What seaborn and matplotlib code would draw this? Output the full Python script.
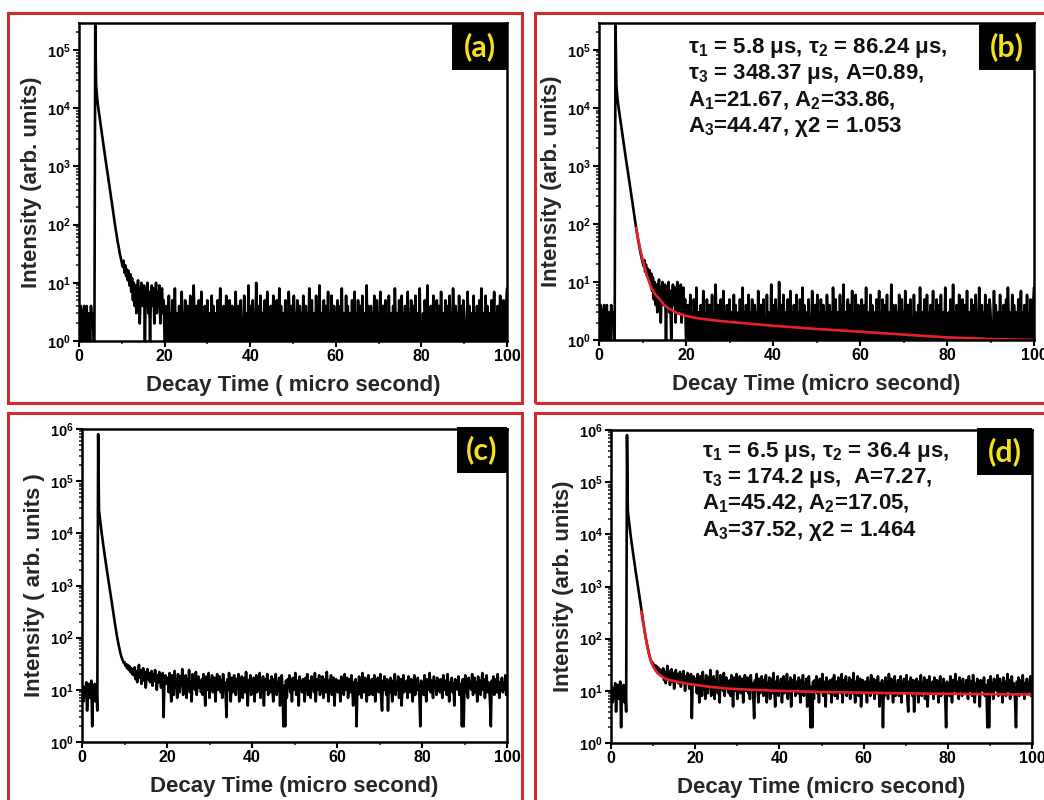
import numpy as np
import matplotlib
matplotlib.use("Agg")
import matplotlib.pyplot as plt
from matplotlib.patches import Rectangle
from matplotlib.ticker import FixedLocator, FixedFormatter, LogLocator, NullFormatter, MultipleLocator
import seaborn as sns

# channel width of the decay histograms (micro second)
step = 0.2

# sample 1 -> panels (a) and (b)
s1_base = [3, 1, 4, 2, 1, 3, 4, 1, 2, 4, 1, 3, 2, 1, 4, 2, 3, 1, 1]
s1_peak = [280000]
s1_decay = [25000, 16000, 11500, 9000, 7000, 5500, 4300, 3400, 2700, 2100,
            1650, 1300, 1050, 830, 660, 520, 410, 330, 260, 205,
            160, 125, 100, 80, 66, 52, 44, 36, 30, 26,
            22, 19, 24, 15, 20, 13, 17, 11, 16, 9, 14]
s1_tail = [7, 12, 5, 10, 4, 9, 3, 8, 11, 5, 2, 7, 10, 4, 6, 9, 1, 8, 5, 10,
           3, 7, 1, 6, 9, 4, 8, 2, 5, 10, 3, 7, 4, 9, 2, 6, 8, 3, 5, 1,
           1, 4, 1, 2, 6, 1, 3, 1, 5, 2, 1, 8, 1, 3, 2, 1, 4, 1, 2, 7,
           1, 3, 1, 5, 2, 1, 4, 1, 2, 6, 1, 3, 1, 9, 2, 1, 4, 2, 1, 5,
           1, 2, 7, 1, 3, 1, 4, 2, 1, 5, 1, 3, 2, 1, 6, 1, 4, 1, 2, 3,
           1, 5, 1, 2, 8, 1, 3, 1, 4, 2, 1, 6, 1, 3, 1, 5, 2, 1, 4, 1,
           3, 1, 7, 2, 1, 4, 1, 3, 5, 1, 2, 1, 6, 1, 3, 2, 1, 9, 1, 4,
           2, 1, 5, 1, 3, 1, 10, 2, 1, 4, 1, 6, 2, 1, 3, 1, 5, 1, 2, 7,
           1, 3, 1, 4, 2, 1, 6, 1, 3, 1, 5, 2, 1, 8, 1, 4, 1, 2, 3, 1,
           5, 1, 2, 1, 7, 3, 1, 4, 1, 2, 6, 1, 3, 1, 5, 2, 1, 4, 1, 3,
           1, 6, 2, 1, 4, 1, 3, 1, 8, 2, 1, 5, 1, 3, 2, 1, 6, 1, 4, 1,
           9, 1, 3, 2, 1, 5, 1, 4, 1, 2, 7, 1, 3, 1, 6, 2, 1, 4, 1, 3,
           1, 5, 1, 2, 4, 1, 8, 1, 3, 2, 1, 6, 1, 4, 1, 3, 2, 1, 5, 1,
           2, 7, 1, 3, 1, 5, 2, 1, 4, 1, 6, 1, 2, 3, 1, 9, 1, 4, 2, 1,
           4, 1, 3, 1, 6, 2, 1, 5, 1, 3, 1, 7, 2, 1, 4, 1, 3, 5, 1, 2,
           1, 6, 1, 3, 2, 1, 4, 1, 8, 2, 1, 3, 1, 5, 2, 1, 6, 1, 3, 1,
           4, 1, 2, 7, 1, 3, 1, 5, 2, 1, 4, 1, 6, 1, 3, 2, 1, 8, 1, 2,
           1, 3, 1, 5, 2, 1, 9, 1, 3, 1, 4, 2, 1, 6, 1, 3, 1, 5, 2, 1,
           4, 1, 7, 1, 2, 3, 1, 5, 1, 4, 1, 2, 6, 1, 3, 1, 8, 2, 1, 4,
           1, 3, 1, 6, 2, 1, 4, 1, 5, 3, 1, 2, 1, 7, 1, 4, 2, 1, 3, 1,
           6, 1, 3, 1, 4, 2, 1, 5, 1, 8, 2, 1, 3, 1, 6, 1, 4, 2, 1, 3,
           1, 5, 1, 2, 7, 1, 3, 1, 4, 2, 1, 6, 1, 3, 1, 5, 2, 1, 4, 8]

# sample 2 -> panels (c) and (d)
s2_base = [9, 12, 6, 11, 8, 14, 4, 10, 13, 7, 11, 15, 2, 12, 9, 13, 6, 10, 4]
s2_peak = [800000]
s2_decay = [28000, 20000, 14500, 10500, 7800, 6000, 4600, 3500, 2700, 2100,
            1650, 1280, 1000, 780, 610, 480, 370, 290, 225, 175,
            138, 110, 90, 74, 62, 52, 45, 40, 36, 33,
            34, 29, 31, 26, 30, 24, 28, 22, 26, 20, 25]
s2_tail = [19, 27, 16, 23, 14, 21, 30, 17, 24, 13, 20, 26, 15, 22, 11, 19, 25, 16, 21, 14,
           18, 23, 12, 20, 15, 24, 17, 10, 19, 14, 22, 16, 11, 18, 21, 3, 15, 19, 13, 17,
           17, 9, 21, 12, 6, 19, 14, 8, 23, 11, 16, 7, 20, 13, 9, 18, 12, 25, 8, 15,
           13, 19, 7, 16, 11, 24, 9, 14, 6, 20, 12, 17, 10, 22, 8, 15, 18, 11, 14, 9,
           16, 8, 20, 12, 5, 18, 13, 10, 21, 7, 15, 11, 19, 9, 14, 17, 6, 13, 20, 10,
           12, 18, 9, 15, 7, 20, 11, 14, 8, 3, 16, 10, 21, 12, 6, 17, 9, 14, 19, 11,
           8, 16, 12, 20, 6, 14, 10, 18, 7, 13, 17, 9, 22, 11, 5, 15, 12, 19, 8, 14,
           10, 17, 6, 13, 19, 9, 15, 11, 21, 7, 14, 12, 18, 5, 16, 10, 13, 20, 8, 12,
           15, 9, 18, 11, 6, 16, 12, 20, 8, 14, 10, 17, 5, 13, 19, 9, 2, 12, 2, 15,
           7, 16, 11, 19, 9, 14, 6, 17, 12, 10, 21, 8, 13, 15, 5, 18, 11, 14, 9, 16,
           12, 6, 17, 10, 20, 8, 13, 15, 7, 18, 11, 14, 9, 21, 6, 12, 16, 10, 19, 8,
           14, 10, 18, 7, 13, 16, 9, 22, 11, 6, 15, 12, 19, 8, 13, 17, 5, 11, 16, 10,
           9, 15, 12, 6, 18, 11, 14, 8, 20, 10, 13, 17, 7, 12, 16, 9, 19, 11, 5, 14,
           11, 16, 2, 13, 8, 18, 10, 15, 7, 21, 12, 9, 17, 11, 6, 14, 19, 8, 13, 10,
           16, 8, 12, 19, 6, 14, 11, 17, 9, 13, 20, 7, 4, 15, 10, 18, 12, 8, 16, 4,
           13, 9, 17, 11, 6, 15, 12, 20, 8, 14, 10, 18, 7, 13, 16, 5, 11, 19, 9, 14,
           10, 15, 7, 18, 12, 9, 16, 11, 6, 14, 19, 8, 13, 10, 17, 12, 7, 2, 15, 11,
           14, 8, 19, 12, 6, 16, 10, 13, 21, 9, 15, 11, 7, 18, 12, 14, 8, 17, 10, 13,
           9, 16, 11, 7, 19, 13, 10, 15, 8, 20, 12, 6, 14, 11, 17, 9, 13, 5, 16, 12,
           15, 10, 18, 8, 13, 11, 2, 16, 2, 12, 19, 9, 14, 7, 17, 11, 13, 10, 20, 8,
           12, 17, 9, 14, 6, 18, 11, 15, 8, 13, 21, 10, 16, 7, 12, 19, 9, 14, 11, 6,
           2, 15, 10, 18, 8, 13, 16, 9, 20, 11, 7, 14, 12, 17, 9, 13, 10, 19, 8, 15]

# fitted curves (b) and (d)
fit_b_t = [8.5, 9.0, 9.5, 10, 11, 12, 13, 14, 15, 16, 18, 20, 23, 26, 30, 35, 40, 50, 60, 70, 80, 90, 100]
fit_b_y = [85, 55, 36, 25, 13, 8.0, 6.0, 5.0, 4.0, 3.5, 2.9, 2.6, 2.35, 2.2, 2.05, 1.9, 1.76, 1.55, 1.39, 1.24, 1.11, 1.04, 1.0]
fit_d_t = [7.2, 7.6, 8.0, 8.5, 9.0, 9.5, 10, 11, 12, 13, 14, 16, 18, 20, 24, 28, 33, 40, 50, 60, 72, 85, 100]
fit_d_y = [330, 210, 135, 80, 52, 37, 29, 22, 19, 17, 16, 14.8, 13.8, 13, 11.8, 11.0, 10.5, 10.0, 9.5, 9.2, 8.9, 8.7, 8.5]

fit_b_text = ["τ$_1$ = 5.8 μs, τ$_2$ = 86.24 μs,",
              "τ$_3$ = 348.37 μs, A=0.89,",
              "A$_1$=21.67, A$_2$=33.86,",
              "A$_3$=44.47, χ2 = 1.053"]
fit_d_text = ["τ$_1$ = 6.5 μs, τ$_2$ = 36.4 μs,",
              "τ$_3$ = 174.2 μs,  A=7.27,",
              "A$_1$=45.42, A$_2$=17.05,",
              "A$_3$=37.52, χ2 = 1.464"]

counts1 = np.array(s1_base + s1_peak + s1_decay + s1_tail, dtype=float)
counts2 = np.array(s2_base + s2_peak + s2_decay + s2_tail, dtype=float)
t1 = np.arange(len(counts1)) * step
t2 = np.arange(len(counts2)) * step

sns.set_theme(style="ticks")
plt.rcParams["font.family"] = ["Liberation Sans", "DejaVu Sans"]
plt.rcParams["font.weight"] = "bold"
plt.rcParams["axes.labelweight"] = "bold"
plt.rcParams["mathtext.fontset"] = "custom"
plt.rcParams["mathtext.rm"] = "Liberation Sans:bold"
plt.rcParams["mathtext.bf"] = "Liberation Sans:bold"
plt.rcParams["mathtext.it"] = "Liberation Sans:bold"
plt.rcParams["mathtext.default"] = "bf"

W, H = 1044, 800
fig = plt.figure(figsize=(W / 100, H / 100), dpi=100)
fig.patch.set_facecolor("white")

frame_red = "#d22b2b"
fit_red = "#e8202a"
tag_yellow = "#f3e11c"

panels = [
    dict(tag="(a)", ax_px=(79, 23, 507, 341), tag_px=(452, 23, 507, 70), frame=(8, 13, 522, 403),
         t=t1, y=counts1, top=2.9e5, xlabel="Decay Time ( micro second)",
         ylabel="Intensity (arb. units)", fit=None, text=None),
    dict(tag="(b)", ax_px=(599, 23, 1034, 340), tag_px=(979, 23, 1034, 70), frame=(535, 13, 1052, 403),
         t=t1, y=counts1, top=2.9e5, xlabel="Decay Time (micro second)",
         ylabel="Intensity (arb. units)", fit=(fit_b_t, fit_b_y), text=(fit_b_text, 688, [53, 79, 106, 132])),
    dict(tag="(c)", ax_px=(82, 429, 507, 742), tag_px=(457, 427, 507, 473), frame=(8, 413, 522, 808),
         t=t2, y=counts2, top=1e6, xlabel="Decay Time (micro second)",
         ylabel="Intensity ( arb. units )", fit=None, text=None),
    dict(tag="(d)", ax_px=(611, 430, 1032, 743), tag_px=(977, 428, 1032, 475), frame=(535, 413, 1052, 808),
         t=t2, y=counts2, top=1e6, xlabel="Decay Time (micro second)",
         ylabel="Intensity (arb. units)", fit=(fit_d_t, fit_d_y), text=(fit_d_text, 702, [457, 483, 509, 536])),
]

for p in panels:
    l, t, r, b = p["ax_px"]
    ax = fig.add_axes([l / W, 1 - b / H, (r - l) / W, (b - t) / H])
    ax.set_yscale("log")
    sns.lineplot(x=p["t"], y=p["y"], ax=ax, color="black", linewidth=1.9,
                 estimator=None, sort=False, legend=False)
    if p["fit"] is not None:
        sns.lineplot(x=p["fit"][0], y=p["fit"][1], ax=ax, color=fit_red, linewidth=1.9,
                     estimator=None, sort=False, legend=False)
    ax.set_xlim(0, 100)
    ax.set_ylim(1, p["top"])
    decades = [k for k in range(0, 7) if 10 ** k <= p["top"]]
    ax.yaxis.set_major_locator(FixedLocator([10.0 ** k for k in decades]))
    ax.yaxis.set_major_formatter(FixedFormatter([f"$10^{{{k}}}$" for k in decades]))
    ax.yaxis.set_minor_locator(LogLocator(base=10, subs=np.arange(2, 10)))
    ax.yaxis.set_minor_formatter(NullFormatter())
    ax.xaxis.set_major_locator(MultipleLocator(20))
    ax.xaxis.set_minor_locator(MultipleLocator(10))
    ax.tick_params(which="major", direction="out", length=4, width=1.5, labelsize=11.5, pad=2,
                   colors="black")
    ax.tick_params(which="minor", direction="out", length=2.5, width=1.2)
    ax.tick_params(axis="y", which="major", labelsize=10.5)
    for s in ax.spines.values():
        s.set_linewidth(1.8)
        s.set_color("black")
    ax.set_xlabel(p["xlabel"], fontsize=16, fontweight="bold", labelpad=8)
    ax.set_ylabel(p["ylabel"], fontsize=16, fontweight="bold", labelpad=3)
    for lab in ax.get_xticklabels():
        lab.set_fontweight("bold")

    # black tag box with yellow letter
    x0, y0, x1, y1 = p["tag_px"]
    fig.patches.append(Rectangle((x0 / W, 1 - y1 / H), (x1 - x0) / W, (y1 - y0) / H,
                                 transform=fig.transFigure, facecolor="black", edgecolor="none", zorder=5))
    fig.text((x0 + x1) / 2 / W, 1 - (y0 + y1) / 2 / H, p["tag"], color=tag_yellow, fontsize=22,
             fontweight="bold", family=["Lato", "DejaVu Sans"], ha="center", va="center", zorder=6)

    if p["text"] is not None:
        lines, tx, baselines = p["text"]
        for line, by in zip(lines, baselines):
            fig.text(tx / W, 1 - by / H, line, fontsize=16, fontweight="bold",
                     ha="left", va="baseline", color="#111111")

    # red frame around the panel
    fl, ft, fr, fb = p["frame"]
    fig.patches.append(Rectangle((fl / W, 1 - fb / H), (fr - fl) / W, (fb - ft) / H,
                                 transform=fig.transFigure, fill=False, edgecolor=frame_red,
                                 linewidth=2.2, zorder=4))

fig.savefig("out.png", dpi=100, facecolor="white")
